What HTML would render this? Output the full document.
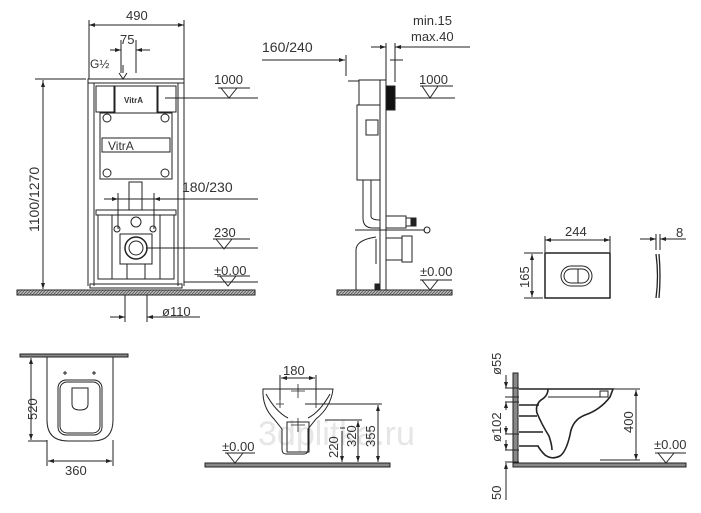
<!DOCTYPE html>
<html><head><meta charset="utf-8"><style>
html,body{margin:0;padding:0;background:#fff;}
svg{display:block;font-family:"Liberation Sans",sans-serif;}
text{fill:#333;}
</style></head><body>
<svg width="701" height="513" viewBox="0 0 701 513" xmlns="http://www.w3.org/2000/svg">
<defs>
<pattern id="h" width="3" height="3" patternUnits="userSpaceOnUse"><rect width="3" height="3" fill="#bbb"/><path d="M0 3L3 0" stroke="#555" stroke-width="0.8"/></pattern>
<marker id="a" markerWidth="6" markerHeight="6" refX="6" refY="3" orient="auto"><path d="M0 1L6 3L0 5z" fill="#222"/></marker>
</defs>
<text x="258" y="445" font-size="34" style="fill:#e6e6e6">3dplitka.ru</text>
<g stroke="#222" fill="none" stroke-width="1">
<!-- FRONT FRAME VIEW -->
<rect x="17" y="290" width="238" height="5" fill="url(#h)"/>
<line x1="89" y1="20" x2="89" y2="79"/><line x1="184" y1="20" x2="184" y2="79"/>
<line x1="89" y1="25" x2="184" y2="25" marker-end="url(#a)"/><line x1="184" y1="25" x2="89" y2="25" marker-end="url(#a)"/>
<line x1="121" y1="40" x2="121" y2="73"/><line x1="136" y1="40" x2="136" y2="73"/>
<line x1="110" y1="50" x2="121" y2="50" marker-end="url(#a)"/><line x1="150" y1="50" x2="136" y2="50" marker-end="url(#a)"/>
<line x1="35" y1="79" x2="86" y2="79"/>
<line x1="43" y1="80" x2="43" y2="289" marker-end="url(#a)"/><line x1="43" y1="289" x2="43" y2="81" marker-end="url(#a)"/>
<rect x="88" y="79" width="96" height="4"/>
<line x1="88" y1="83" x2="88" y2="286"/><line x1="184" y1="83" x2="184" y2="286"/>
<line x1="94" y1="83" x2="94" y2="286"/><line x1="178" y1="83" x2="178" y2="286"/>
<rect x="96" y="86" width="18" height="26"/><rect x="158" y="86" width="18" height="26"/>
<rect x="115" y="86" width="42" height="27"/>
<rect x="100" y="113" width="72" height="66"/>
<rect x="102" y="138" width="68" height="14"/>
<circle cx="107" cy="118" r="4"/><circle cx="165" cy="118" r="4"/><circle cx="107" cy="173" r="4"/><circle cx="165" cy="173" r="4"/>
<rect x="129" y="182" width="13" height="28"/>
<rect x="96" y="210" width="80" height="5"/>
<rect x="98" y="215" width="76" height="64"/>
<line x1="112" y1="215" x2="112" y2="279"/><line x1="160" y1="215" x2="160" y2="279"/>
<circle cx="136" cy="222" r="5"/><circle cx="117" cy="229" r="3"/><circle cx="153" cy="229" r="3"/>
<rect x="120" y="234" width="32" height="30"/>
<circle cx="136" cy="248" r="11" stroke-width="1.5"/><circle cx="136" cy="248" r="7"/>
<path d="M127 264 v15 M145 264 v15"/>
<rect x="90" y="284" width="92" height="4"/>
<line x1="118" y1="199" x2="258" y2="199"/>
<line x1="104" y1="199" x2="118" y2="199" marker-end="url(#a)"/><line x1="168" y1="199" x2="154" y2="199" marker-end="url(#a)"/>
<line x1="118" y1="193" x2="118" y2="229"/><line x1="154" y1="193" x2="154" y2="229"/>
<line x1="165" y1="98" x2="258" y2="98"/><line x1="218" y1="88" x2="250" y2="88"/><path d="M221 88 L229 98 L237 88"/>
<line x1="146" y1="248" x2="258" y2="248"/><line x1="213" y1="239" x2="250" y2="239"/><path d="M216 239 L224 249 L232 239"/>
<line x1="184" y1="282" x2="258" y2="282"/><line x1="217" y1="276" x2="250" y2="276"/><path d="M220 276 L228 286 L236 276"/>
<line x1="125" y1="295" x2="125" y2="322"/><line x1="147" y1="295" x2="147" y2="322"/>
<line x1="110" y1="317" x2="125" y2="317" marker-end="url(#a)"/><line x1="200" y1="317" x2="147" y2="317" marker-end="url(#a)"/>
<path d="M123 65 v8 M119 73 l4 6 l4 -6"/>

<!-- SIDE FRAME VIEW -->
<rect x="337" y="290" width="115" height="5" fill="url(#h)"/>
<line x1="262" y1="60" x2="345" y2="60" marker-end="url(#a)"/><line x1="346" y1="55" x2="346" y2="76"/>
<line x1="386" y1="43" x2="386" y2="80"/><line x1="395" y1="43" x2="395" y2="82"/>
<line x1="371" y1="47" x2="386" y2="47" marker-end="url(#a)"/><line x1="470" y1="47" x2="395" y2="47" marker-end="url(#a)"/>
<line x1="390" y1="60" x2="403" y2="60"/>
<rect x="380" y="80" width="6" height="210"/>
<rect x="359" y="80" width="21" height="25"/>
<rect x="357" y="105" width="23" height="75"/>
<rect x="386" y="86" width="9" height="24" fill="#111"/>
<line x1="348" y1="81" x2="359" y2="81"/>
<rect x="366" y="120" width="12" height="15"/>
<path d="M363 180 v38 q0 10 10 10 h7 M371 180 v36 q0 4 9 4"/>
<rect x="386" y="216" width="20" height="12"/><rect x="406" y="218" width="10" height="8"/><rect x="411" y="218" width="5" height="8" fill="#222"/>
<line x1="355" y1="230" x2="425" y2="230"/><circle cx="427" cy="230" r="3"/>
<rect x="386" y="238" width="16" height="22"/><rect x="402" y="236" width="10" height="26"/>
<path d="M356 290 v-40 q0 -10 20 -13 M376 239 v25"/>
<rect x="375" y="284" width="5" height="6" fill="#222"/>
<line x1="395" y1="98" x2="455" y2="98"/><line x1="420" y1="86" x2="453" y2="86"/><path d="M422 86 L430 98 L438 86"/>
<line x1="420" y1="280" x2="452" y2="280"/><path d="M422 280 L430 290 L438 280"/>

<!-- FLUSH PLATE -->
<line x1="545" y1="236" x2="545" y2="252"/><line x1="610" y1="236" x2="610" y2="252"/>
<line x1="545" y1="240" x2="610" y2="240" marker-end="url(#a)"/><line x1="610" y1="240" x2="545" y2="240" marker-end="url(#a)"/>
<rect x="545" y="253" width="65" height="45" stroke-width="1.5"/>
<rect x="561" y="266" width="31" height="20" rx="10"/><rect x="564" y="269" width="25" height="14" rx="7"/><line x1="578" y1="269" x2="578" y2="283"/>
<line x1="524" y1="253" x2="543" y2="253"/><line x1="524" y1="298" x2="543" y2="298"/>
<line x1="532" y1="255" x2="532" y2="297" marker-end="url(#a)"/><line x1="532" y1="296" x2="532" y2="254" marker-end="url(#a)"/>
<line x1="656" y1="234" x2="656" y2="250"/><line x1="660" y1="234" x2="660" y2="250"/>
<line x1="640" y1="239" x2="656" y2="239" marker-end="url(#a)"/><line x1="686" y1="239" x2="660" y2="239" marker-end="url(#a)"/>
<path d="M656 254 q3 22 0 44 M659 254 q2 22 0 44" stroke-width="1.3"/>

<!-- BOTTOM LEFT TOP VIEW -->
<rect x="20" y="354" width="108" height="3" fill="#888"/>
<path d="M47 357 V420 q0 21 21 21 h25 q20 0 20 -21 V357"/>
<rect x="58" y="380" width="44" height="55" rx="8"/><rect x="60" y="382" width="40" height="51" rx="7"/>
<path d="M72 388 v16 q0 6 8 6 q8 0 8 -6 v-16 z"/>
<path d="M63 373 h4 M65 371 v4 M92 373 h4 M94 371 v4"/>
<line x1="31" y1="359" x2="31" y2="440" marker-end="url(#a)"/><line x1="31" y1="438" x2="31" y2="358" marker-end="url(#a)"/>
<line x1="28" y1="441" x2="47" y2="441"/>
<line x1="47" y1="440" x2="47" y2="466"/><line x1="113" y1="440" x2="113" y2="466"/>
<line x1="48" y1="461" x2="112" y2="461" marker-end="url(#a)"/><line x1="112" y1="461" x2="48" y2="461" marker-end="url(#a)"/>

<!-- BOTTOM MIDDLE -->
<rect x="205" y="463" width="185" height="4" fill="#888"/>
<path d="M263 389 h70 q-2 18 -17 30 l-8 10 v20 q0 5 -4 5 h-18 q-4 0 -4 -5 v-20 l-8 -10 q-12 -12 -11 -30z"/>
<path d="M266 394 q10 18 22 24 M330 394 q-10 18 -22 24"/>
<rect x="287" y="422" width="22" height="30"/>
<line x1="280" y1="375" x2="280" y2="400"/><line x1="316" y1="375" x2="316" y2="400"/>
<line x1="281" y1="378" x2="315" y2="378" marker-end="url(#a)"/><line x1="315" y1="378" x2="281" y2="378" marker-end="url(#a)"/>
<path d="M298 384 v14 M291 391 h14 M280 400 v8 M276 404 h8 M316 400 v8 M312 404 h8 M298 418 v14 M291 425 h14" stroke-width="0.8"/>
<line x1="305" y1="404" x2="382" y2="404"/><line x1="325" y1="420" x2="362" y2="420"/><line x1="340" y1="428" x2="345" y2="428"/>
<line x1="342" y1="431" x2="342" y2="462" marker-end="url(#a)"/>
<line x1="358" y1="421" x2="358" y2="462" marker-end="url(#a)"/><line x1="358" y1="462" x2="358" y2="421" marker-end="url(#a)"/>
<line x1="378" y1="405" x2="378" y2="462" marker-end="url(#a)"/><line x1="378" y1="462" x2="378" y2="405" marker-end="url(#a)"/>
<line x1="225" y1="453" x2="255" y2="453"/><path d="M227 453 L235 463 L243 453"/>

<!-- BOTTOM RIGHT -->
<rect x="513" y="373" width="5" height="93" fill="#888"/>
<rect x="513" y="463" width="173" height="4" fill="#888"/>
<path d="M519 389 H613 L610 397 Q600 410 585 415 Q572 420 570 435 Q566 452 560 456 Q552 460 545 455 Q540 450 538 446 H519" stroke-width="1.6"/>
<path d="M548 389 Q548 396 541 400 Q535 405 537 413 Q542 425 549 436 Q552 445 552 450" stroke-width="1.6"/>
<path d="M519 405 h20 M519 416 h18 M519 432 h24" stroke-width="1.6"/>
<rect x="600" y="391" width="8" height="6"/>
<line x1="548" y1="397" x2="605" y2="397"/>
<line x1="608" y1="389" x2="640" y2="389"/><line x1="600" y1="460" x2="640" y2="460"/>
<line x1="636" y1="390" x2="636" y2="460" marker-end="url(#a)"/><line x1="636" y1="460" x2="636" y2="390" marker-end="url(#a)"/>
<line x1="655" y1="453" x2="686" y2="453"/><path d="M658 453 L666 463 L674 453"/>
<line x1="505" y1="388" x2="519" y2="388"/><line x1="505" y1="397" x2="519" y2="397"/>
<line x1="505" y1="402" x2="519" y2="402"/><line x1="505" y1="434" x2="519" y2="434"/>
<line x1="505" y1="450" x2="519" y2="450"/><line x1="505" y1="462" x2="519" y2="462"/>
<line x1="506" y1="375" x2="506" y2="388" marker-end="url(#a)"/>
<line x1="506" y1="410" x2="506" y2="402" marker-end="url(#a)"/><line x1="506" y1="426" x2="506" y2="434" marker-end="url(#a)"/>
<line x1="506" y1="440" x2="506" y2="450" marker-end="url(#a)"/><line x1="506" y1="475" x2="506" y2="463" marker-end="url(#a)"/>
<line x1="506" y1="475" x2="506" y2="500"/>
</g>
<g font-size="13">
<text x="126" y="20">490</text>
<text x="120" y="44">75</text>
<text x="90" y="68" font-size="12">G½</text>
<text x="214" y="84">1000</text>
<text x="182" y="192" font-size="14">180/230</text>
<text x="214" y="237">230</text>
<text x="214" y="275">±0.00</text>
<text x="162" y="316">ø110</text>
<text transform="translate(39,232) rotate(-90)" font-size="14">1100/1270</text>
<text x="262" y="52" font-size="14">160/240</text>
<text x="413" y="25">min.15</text>
<text x="411" y="41">max.40</text>
<text x="419" y="84">1000</text>
<text x="420" y="276">±0.00</text>
<text x="565" y="236">244</text>
<text x="676" y="237">8</text>
<text transform="translate(529,288) rotate(-90)">165</text>
<text transform="translate(37,420) rotate(-90)">520</text>
<text x="65" y="475">360</text>
<text x="283" y="375">180</text>
<text x="222" y="451">±0.00</text>
<text transform="translate(338,458) rotate(-90)">220</text>
<text transform="translate(356,447) rotate(-90)">320</text>
<text transform="translate(375,447) rotate(-90)">355</text>
<text transform="translate(633,433) rotate(-90)">400</text>
<text x="654" y="449">±0.00</text>
<text transform="translate(501,375) rotate(-90)">ø55</text>
<text transform="translate(501,442) rotate(-90)">ø102</text>
<text transform="translate(501,500) rotate(-90)">50</text>
</g>
<g font-size="8" font-weight="bold"><text x="124" y="103">VitrA</text></g>
<text x="108" y="150" font-size="12">VitrA</text>
</svg>
</body></html>
